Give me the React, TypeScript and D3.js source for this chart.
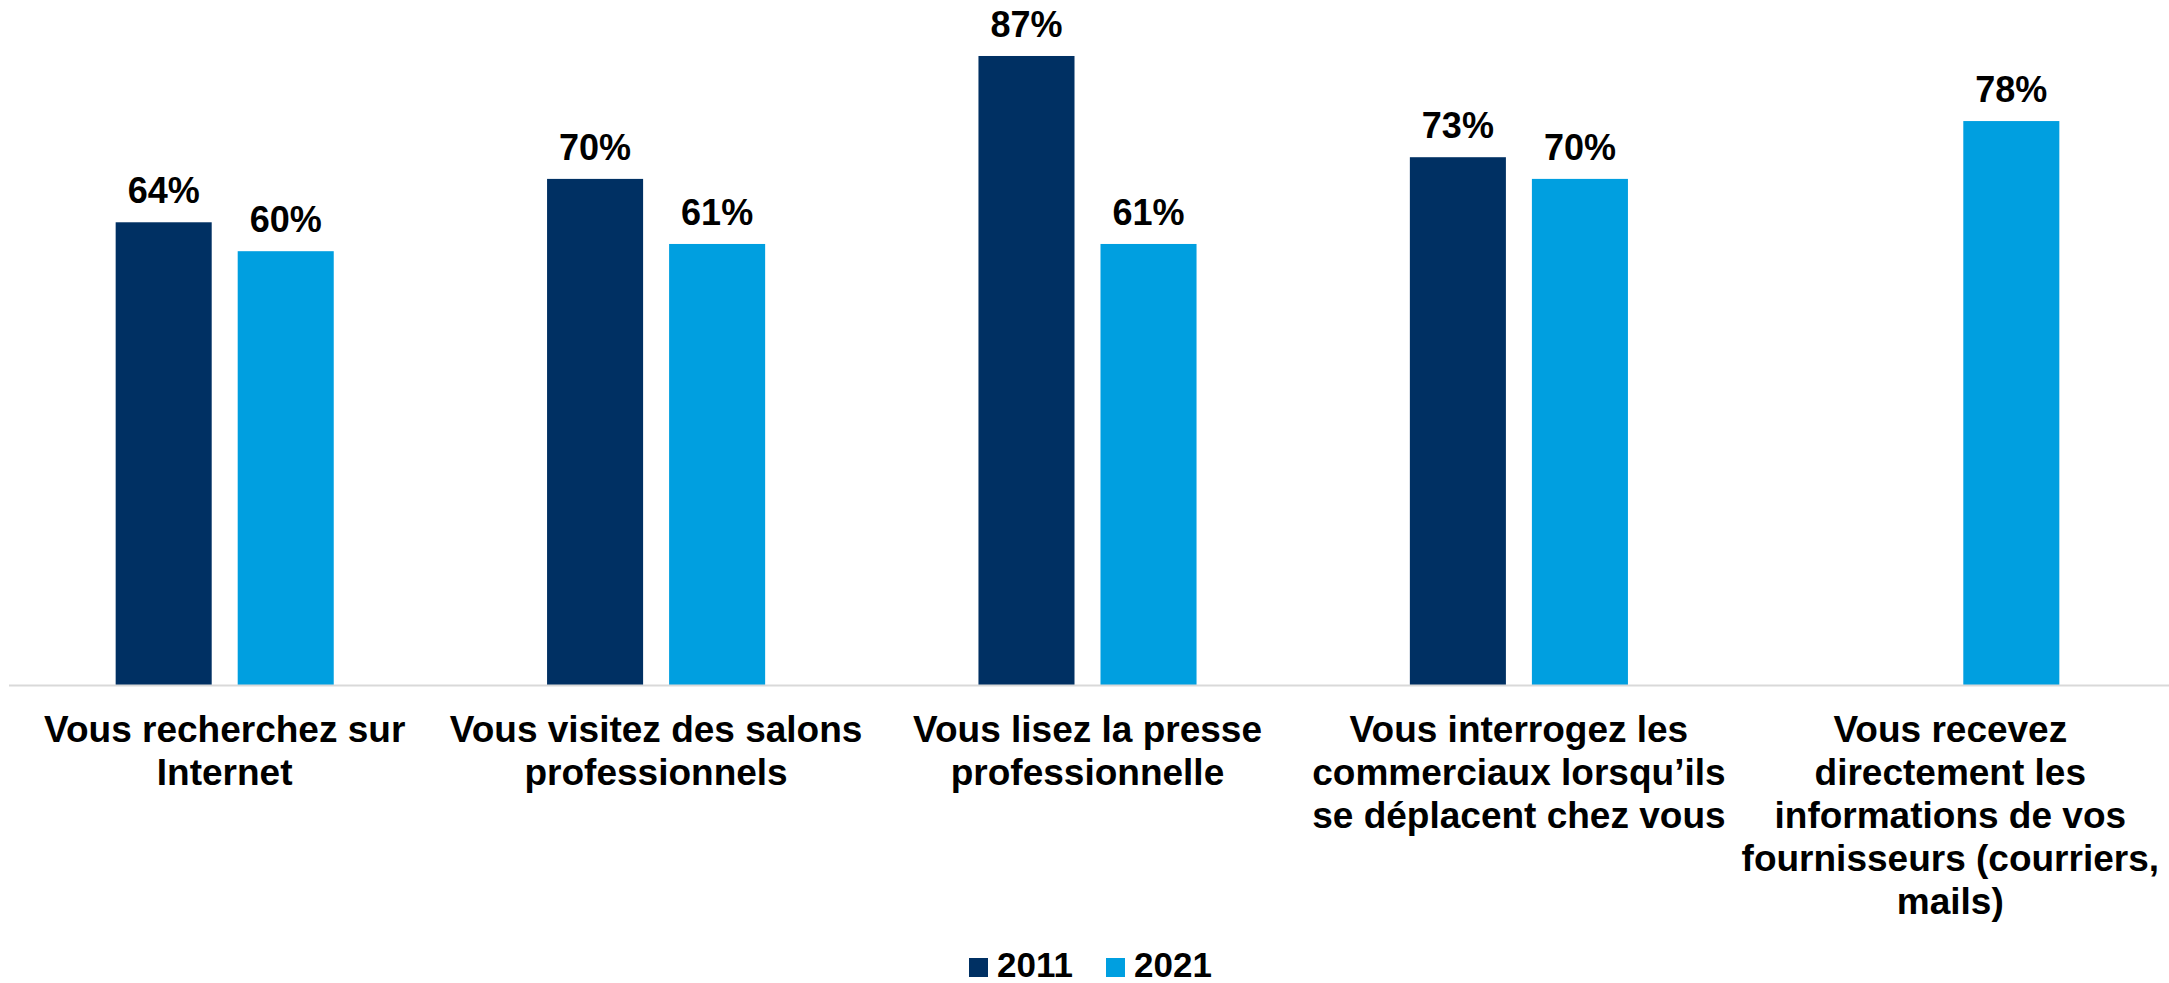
import React from "react";
import * as d3 from "d3";

const categories: string[][] = [
  ["Vous recherchez sur", "Internet"],
  ["Vous visitez des salons", "professionnels"],
  ["Vous lisez la presse", "professionnelle"],
  ["Vous interrogez les", "commerciaux lorsqu’ils", "se déplacent chez vous"],
  ["Vous recevez", "directement les", "informations de vos", "fournisseurs (courriers,", "mails)"],
];
const seriesNames = ["2011", "2021"];
const values2011: (number | null)[] = [64, 70, 87, 73, null];
const values2021: (number | null)[] = [60, 61, 61, 70, 78];
const seriesColors = ["#003063", "#009FE0"];

const W = 2169;
const H = 983;
const FONT = "'Liberation Sans', Arial, Helvetica, sans-serif";

export default function App() {
  const groupIdx = categories.map((_, i) => String(i));
  const x0 = d3.scaleBand<string>().domain(groupIdx).range([9, 2166]).paddingInner(0).paddingOuter(0);
  const x1 = d3
    .scaleBand<string>()
    .domain(seriesNames)
    .range([0, x0.bandwidth()])
    .paddingInner(0.213)
    .paddingOuter(0.874);
  const y = d3.scaleLinear().domain([0, 100]).range([685, -38]);
  const seriesValues = [values2011, values2021];

  const bars: React.ReactNode[] = [];
  const labels: React.ReactNode[] = [];
  categories.forEach((_, gi) => {
    seriesNames.forEach((s, si) => {
      const v = seriesValues[si][gi];
      if (v == null) return;
      const bx = (x0(String(gi)) as number) + (x1(s) as number);
      const bw = x1.bandwidth();
      bars.push(
        <rect key={`b${gi}-${si}`} x={bx} y={y(v)} width={bw} height={y(0) - y(v)} fill={seriesColors[si]} />
      );
      labels.push(
        <text
          key={`l${gi}-${si}`}
          x={bx + bw / 2}
          y={y(v) - 19}
          textAnchor="middle"
          fontFamily={FONT}
          fontWeight="bold"
          fontSize={36}
          fill="#000"
        >
          {v}%
        </text>
      );
    });
  });

  return (
    <svg
      width={W}
      height={H}
      style={{ position: "fixed", left: 0, top: 0, background: "#fff" }}
    >
      <rect x={0} y={0} width={W} height={H} fill="#fff" />
      {bars}
      <line x1={9} x2={W} y1={y(0) + 0.5} y2={y(0) + 0.5} stroke="#d9d9d9" strokeWidth={2} />
      {labels}
      {categories.map((lines, gi) => {
        const cx = (x0(String(gi)) as number) + x0.bandwidth() / 2;
        return (
          <text
            key={`c${gi}`}
            textAnchor="middle"
            fontFamily={FONT}
            fontWeight="bold"
            fontSize={37}
            fill="#000"
          >
            {lines.map((ln, li) => (
              <tspan key={li} x={cx} y={741.5 + li * 43.2}>
                {ln}
              </tspan>
            ))}
          </text>
        );
      })}
      <g>
        {seriesNames.map((s, si) => {
          const lx = [969, 1106][si];
          return (
            <g key={s}>
              <rect x={lx} y={958} width={19} height={19} fill={seriesColors[si]} />
              <text x={lx + 28} y={977} fontFamily={FONT} fontWeight="bold" fontSize={35} fill="#000">
                {s}
              </text>
            </g>
          );
        })}
      </g>
    </svg>
  );
}
